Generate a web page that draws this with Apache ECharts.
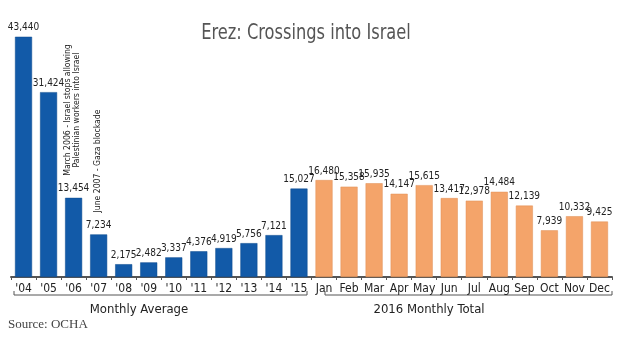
<!DOCTYPE html>
<html>
<head>
<meta charset="utf-8">
<script src="https://cdn.jsdelivr.net/npm/echarts@6/dist/echarts.min.js"></script>
<style>html,body{margin:0;padding:0;background:#fff}#c{width:628px;height:340px}</style>
</head>
<body>
<div id="c"></div>
<script>
var categories = ["'04","'05","'06","'07","'08","'09","'10","'11","'12","'13","'14","'15","Jan","Feb","Mar","Apr","May","Jun","Jul","Aug","Sep","Oct","Nov","Dec"];
var monthlyAverage = [43440,31424,13454,7234,2175,2482,3337,4376,4919,5756,7121,15027];
var monthly2016 = [16480,15358,15935,14147,15615,13417,12978,14484,12139,7939,10332,9425];
var titleText = "Erez: Crossings into Israel";
var groupLabels = ["Monthly Average","2016 Monthly Total"];
var annotations = ["March 2006 - Israel stops allowing\nPalestinian workers into Israel","June 2007 - Gaza blockade"];
var sourceText = "Source: OCHA";

var nA = monthlyAverage.length, nB = monthly2016.length;
var avgData = monthlyAverage.concat(new Array(nB).fill(null));
var totData = new Array(nA).fill(null).concat(monthly2016);
var narrow = "'DejaVu Sans Condensed','Liberation Sans Narrow','Roboto',sans-serif";
function fmt(v){return v.toLocaleString('en-US');}

var chart = echarts.init(document.getElementById('c'), null, {renderer:'canvas'});
var labelCfg = {show:true, position:'top', distance:4, fontFamily:narrow, fontSize:10, color:'#222',
  formatter:function(p){return fmt(p.value);}};
chart.setOption({
  animation:false,
  grid:{left:11, right:16, top:37, bottom:63},
  xAxis:{type:'category', data:categories, boundaryGap:true,
    axisLine:{lineStyle:{color:'#555', width:2}},
    axisTick:{show:true, length:3, interval:0, lineStyle:{color:'#555'}},
    axisLabel:{interval:0, fontFamily:narrow, fontSize:12, color:'#222', margin:6}},
  yAxis:{type:'value', min:0, max:40800, show:false, splitLine:{show:false}},
  series:[
    {type:'bar', stack:'s', data:avgData, barCategoryGap:'32%', itemStyle:{color:'#125aa8', borderColor:'#0d4a8e', borderWidth:0.5}, label:labelCfg},
    {type:'bar', stack:'s', data:totData, barCategoryGap:'32%', itemStyle:{color:'#f4a46a', borderColor:'#e08f55', borderWidth:0.5}, label:labelCfg}
  ],
  graphic:[
    {type:'text', x:306, y:34, scaleX:0.86, style:{text:titleText, fontFamily:narrow, fontSize:21, fill:'#555', align:'center', verticalAlign:'middle'}},
    {type:'text', x:72, y:110, rotation:Math.PI/2, scaleX:0.9, style:{text:annotations[0], fontFamily:narrow, fontSize:9.5, fill:'#222', align:'center', verticalAlign:'middle', lineHeight:8.5}},
    {type:'text', x:98, y:161, rotation:Math.PI/2, scaleX:0.9, style:{text:annotations[1], fontFamily:narrow, fontSize:9.5, fill:'#222', align:'center', verticalAlign:'middle'}},
    {type:'polyline', shape:{points:[[14,291],[14,295],[307,295],[307,291]]}, style:{stroke:'#555', lineWidth:1, fill:null}},
    {type:'polyline', shape:{points:[[325,291],[325,295],[612,295],[612,291]]}, style:{stroke:'#555', lineWidth:1, fill:null}},
    {type:'text', x:139, y:310, style:{text:groupLabels[0], fontFamily:narrow, fontSize:13, fill:'#222', align:'center', verticalAlign:'middle'}},
    {type:'text', x:429, y:310, style:{text:groupLabels[1], fontFamily:narrow, fontSize:13, fill:'#222', align:'center', verticalAlign:'middle'}},
    {type:'text', x:8, y:325, style:{text:sourceText, fontFamily:"'Liberation Serif','DejaVu Serif',serif", fontSize:13, fill:'#444', align:'left', verticalAlign:'middle'}}
  ]
});
</script>
</body>
</html>
